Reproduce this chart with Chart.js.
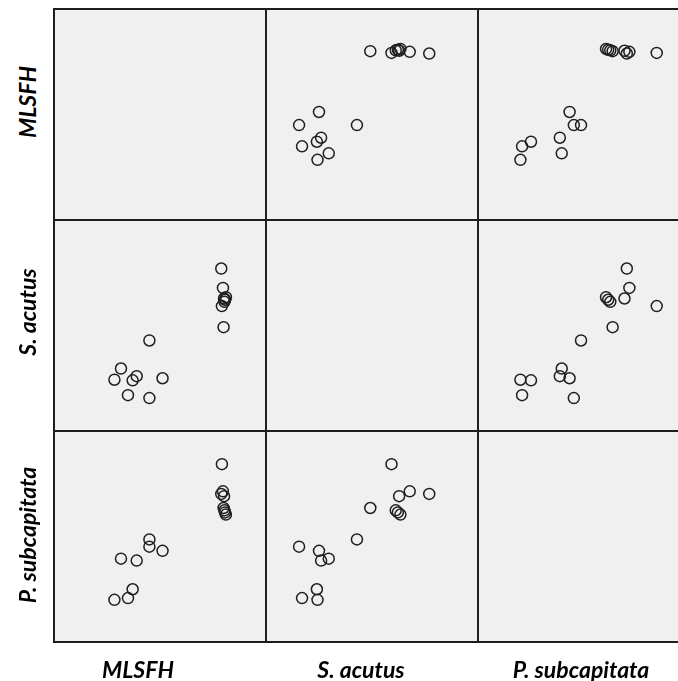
<!DOCTYPE html>
<html>
<head>
<meta charset="utf-8">
<script src="https://cdn.jsdelivr.net/npm/chart.js@4"></script>
<style>
  body { margin: 0; background: #ffffff; }
  #matrix { position: relative; width: 678px; height: 681px; overflow: hidden; }
  .cell {
    position: absolute;
    box-sizing: border-box;
    width: 214px;
    height: 213px;
    border: 2px solid #1e1e1e;
    background: #f0f0f0;
  }
  .plot { position: absolute; }
  .label {
    position: absolute;
    font-family: "Lato", sans-serif;
    font-weight: bold;
    font-style: italic;
    font-size: 23px;
    color: #000000;
    white-space: nowrap;
  }
</style>
</head>
<body>
<div id="matrix"></div>
<script>
// variable names
const VARIABLES = ["MLSFH", "S. acutus", "P. subcapitata"];

// observations (same order in every array), scale 0-100 of each cell
const mlsfh = [51.2, 45.0, 45.0, 39.0, 37.1, 34.9, 31.6, 28.5,
  78.9, 79.7, 80.2, 81.1, 80.7, 80.4, 79.2, 80.0];
const sAcutus = [25.0, 15.6, 42.9, 26.0, 24.0, 17.0, 29.6, 24.3,
  77.0, 67.8, 62.8, 63.4, 62.2, 61.2, 59.2, 49.2];
const pSubcapitata = [43.2, 45.2, 48.6, 38.6, 25.0, 20.8, 39.5, 20.0,
  70.2, 71.4, 69.1, 60.4, 61.4, 62.4, 84.3, 63.5];

const SERIES = [mlsfh, sAcutus, pSubcapitata];

// axis range shared by all cells
const AXIS_MIN = 0;
const AXIS_MAX = 100;

const COLORS = {
  marker: "#1f1f1f",
};

const GRID_LEFT = 54;
const GRID_TOP = 9;
const CELL_W = 212;
const CELL_H = 211;

const matrix = document.getElementById("matrix");

const hiddenAxis = {
  type: "linear",
  display: false,
  min: AXIS_MIN,
  max: AXIS_MAX,
};

const scatterOptions = {
  responsive: false,
  animation: false,
  layout: { padding: 0, autoPadding: false },
  scales: {
    x: hiddenAxis,
    y: hiddenAxis,
  },
  plugins: {
    legend: { display: false },
    tooltip: { enabled: false },
  },
};

VARIABLES.forEach((rowName, row) => {
  VARIABLES.forEach((colName, col) => {
    // cell frame
    const cell = document.createElement("div");
    cell.className = "cell";
    cell.style.left = GRID_LEFT - 1 + col * CELL_W + "px";
    cell.style.top = GRID_TOP - 1 + row * CELL_H + "px";
    matrix.appendChild(cell);

    // diagonal cells stay empty
    if (row === col) return;

    const canvas = document.createElement("canvas");
    canvas.className = "plot";
    canvas.width = CELL_W;
    canvas.height = CELL_H;
    canvas.style.left = GRID_LEFT + col * CELL_W + "px";
    canvas.style.top = GRID_TOP + row * CELL_H + "px";
    matrix.appendChild(canvas);

    const xs = SERIES[col];
    const ys = SERIES[row];

    new Chart(canvas.getContext("2d"), {
      type: "scatter",
      data: {
        datasets: [
          {
            label: rowName + " / " + colName,
            data: xs.map((x, i) => ({ x: x, y: ys[i] })),
            pointStyle: "circle",
            pointRadius: 5.5,
            pointBorderWidth: 1.5,
            pointBorderColor: COLORS.marker,
            pointBackgroundColor: "rgba(0,0,0,0)",
          },
        ],
      },
      options: scatterOptions,
    });
  });
});

// column labels (bottom)
const bottomLabelX = [138, 361, 581];
VARIABLES.forEach((name, i) => {
  const el = document.createElement("div");
  el.className = "label";
  el.textContent = name;
  el.style.left = bottomLabelX[i] + "px";
  el.style.top = "669px";
  el.style.transform = "translate(-50%, -50%)";
  matrix.appendChild(el);
});

// row labels (left, rotated)
const sideLabelY = [102, 312, 535];
VARIABLES.forEach((name, i) => {
  const el = document.createElement("div");
  el.className = "label";
  el.textContent = name;
  el.style.left = "27px";
  el.style.top = sideLabelY[i] + "px";
  el.style.transform = "translate(-50%, -50%) rotate(-90deg)";
  matrix.appendChild(el);
});
</script>
</body>
</html>
